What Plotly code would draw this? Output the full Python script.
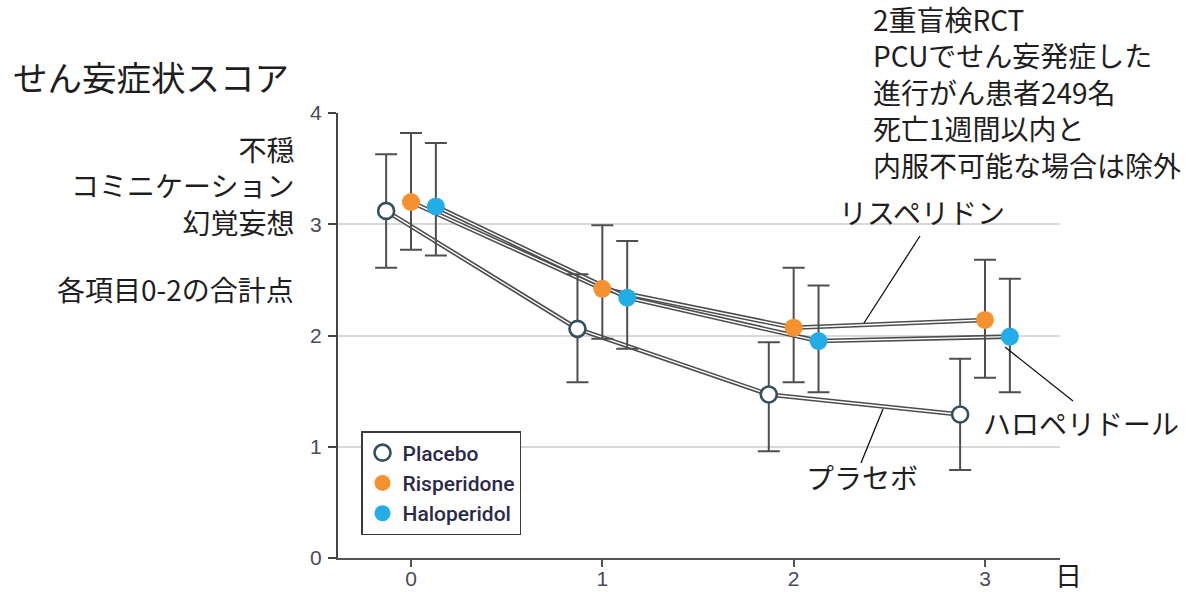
import plotly.graph_objects as go

# ---- data ----
days = [0, 1, 2, 3]
offsets = {"Placebo": -0.13, "Risperidone": 0.0, "Haloperidol": 0.13}

placebo = [3.12, 2.06, 1.47, 1.29]
placebo_hi = [3.63, 2.55, 1.94, 1.79]
placebo_lo = [2.61, 1.58, 0.96, 0.79]

risperidone = [3.20, 2.42, 2.07, 2.14]
risperidone_hi = [3.82, 2.99, 2.61, 2.68]
risperidone_lo = [2.77, 1.97, 1.58, 1.62]

haloperidol = [3.16, 2.34, 1.95, 1.99]
haloperidol_hi = [3.73, 2.85, 2.45, 2.51]
haloperidol_lo = [2.72, 1.88, 1.49, 1.49]

x_ticks = [0, 1, 2, 3]
y_ticks = [0, 1, 2, 3, 4]

# ---- layout geometry (pixels) ----
W, H = 1199, 592
L, R, T, B = 338, 139, 113, 34
PW, PH = W - L - R, H - T - B


def px(xp, yp):
    return (xp - L) / PW, (H - B - yp) / PH


series = [
    ("Placebo", placebo, placebo_hi, placebo_lo,
     dict(color="white", size=16, line=dict(color="#34505c", width=2.6))),
    ("Risperidone", risperidone, risperidone_hi, risperidone_lo,
     dict(color="#f6912f", size=18, line=dict(width=0))),
    ("Haloperidol", haloperidol, haloperidol_hi, haloperidol_lo,
     dict(color="#22ade6", size=18, line=dict(width=0))),
]

fig = go.Figure()

# double lines (casing)
for name, vals, hi, lo, mk in series:
    xs = [d + offsets[name] for d in days]
    fig.add_trace(go.Scatter(x=xs, y=vals, mode="lines",
                             line=dict(color="#4d4d4d", width=4.6),
                             showlegend=False, hoverinfo="skip"))
    fig.add_trace(go.Scatter(x=xs, y=vals, mode="lines",
                             line=dict(color="white", width=1.4),
                             showlegend=False, hoverinfo="skip"))

# markers with error bars
for name, vals, hi, lo, mk in series:
    xs = [d + offsets[name] for d in days]
    fig.add_trace(go.Scatter(
        x=xs, y=vals, mode="markers", marker=mk, showlegend=False,
        error_y=dict(type="data", symmetric=False,
                     array=[h - v for h, v in zip(hi, vals)],
                     arrayminus=[v - l for v, l in zip(vals, lo)],
                     color="#4f4f4f", thickness=2, width=11),
        cliponaxis=False))

# legend entries
for name, vals, hi, lo, mk in series:
    m = dict(mk)
    m["size"] = 16
    fig.add_trace(go.Scatter(x=[None], y=[None], mode="markers", marker=m, name=name))

jp = "Noto Sans CJK JP"
txt_col = "#1e1e1e"
ann = []


def add_text(text, xp, yp, size=28, xanchor="left", yanchor="middle", align="left"):
    xx, yy = px(xp, yp)
    ann.append(dict(text=text, x=xx, y=yy, xref="paper", yref="paper",
                    xanchor=xanchor, yanchor=yanchor, align=align, showarrow=False,
                    font=dict(family=jp, size=size, color=txt_col)))


add_text("せん妄症状スコア", 11, 76, size=34.5)
add_text("不穏<br>コミニケーション<br>幻覚妄想", 296, 185, xanchor="right", align="right")
add_text("各項目0-2の合計点", 296, 289, xanchor="right")

tr_lines = ["2重盲検RCT", "PCUでせん妄発症した", "進行がん患者249名", "死亡1週間以内と", "内服不可能な場合は除外"]
add_text("<br>".join(tr_lines), 871, 92)

add_text("リスペリドン", 922, 212, xanchor="center")
add_text("ハロペリドール", 1081, 423, xanchor="center")
add_text("プラセボ", 862, 477, xanchor="center")
add_text("日", 1068, 574, size=27, xanchor="center")

shapes = []


def leader(x0, y0, x1, y1):
    a, b = px(x0, y0)
    c, d = px(x1, y1)
    shapes.append(dict(type="line", xref="paper", yref="paper", x0=a, y0=b, x1=c, y1=d,
                       line=dict(color="#111111", width=1.3)))


leader(864, 323, 920, 236)
leader(1005, 347, 1073, 401)
leader(883, 409, 861, 463)

tick_font = dict(family="Liberation Sans, sans-serif", size=21, color="#4a4a58")

fig.update_layout(
    width=W, height=H,
    margin=dict(l=L, r=R, t=T, b=B, pad=0, autoexpand=False),
    paper_bgcolor="white", plot_bgcolor="white",
    annotations=ann, shapes=shapes,
    legend=dict(x=px(361, 0)[0], y=px(0, 431)[1], xanchor="left", yanchor="top",
                bordercolor="#3c3c3c", borderwidth=1.5, bgcolor="white",
                font=dict(family="Roboto, Liberation Sans, sans-serif",
                          size=21, color="#2a2a48", weight=500),
                itemwidth=30, tracegroupgap=0),
    xaxis=dict(range=[(L - 411) / 191.33, (1060 - 411) / 191.33],
               tickvals=x_ticks, ticktext=[str(v) for v in x_ticks],
               ticks="outside", ticklen=7, tickwidth=2, tickcolor="#555",
               ticklabelstandoff=-6, automargin=False,
               showline=True, linecolor="#555", linewidth=2,
               showgrid=False, zeroline=False, tickfont=tick_font),
    yaxis=dict(range=[0, 4], tickvals=y_ticks, automargin=False,
               ticks="outside", ticklen=8, tickwidth=2, tickcolor="#444",
               ticklabelstandoff=2,
               showline=True, linecolor="#444", linewidth=2,
               showgrid=True, gridcolor="#d9d9d9", gridwidth=1.5, zeroline=False,
               tickfont=tick_font),
    showlegend=True,
)

fig.write_html("out.html", config={"displayModeBar": False},
               post_script="document.body.style.margin='0';document.body.style.overflow='hidden';")
